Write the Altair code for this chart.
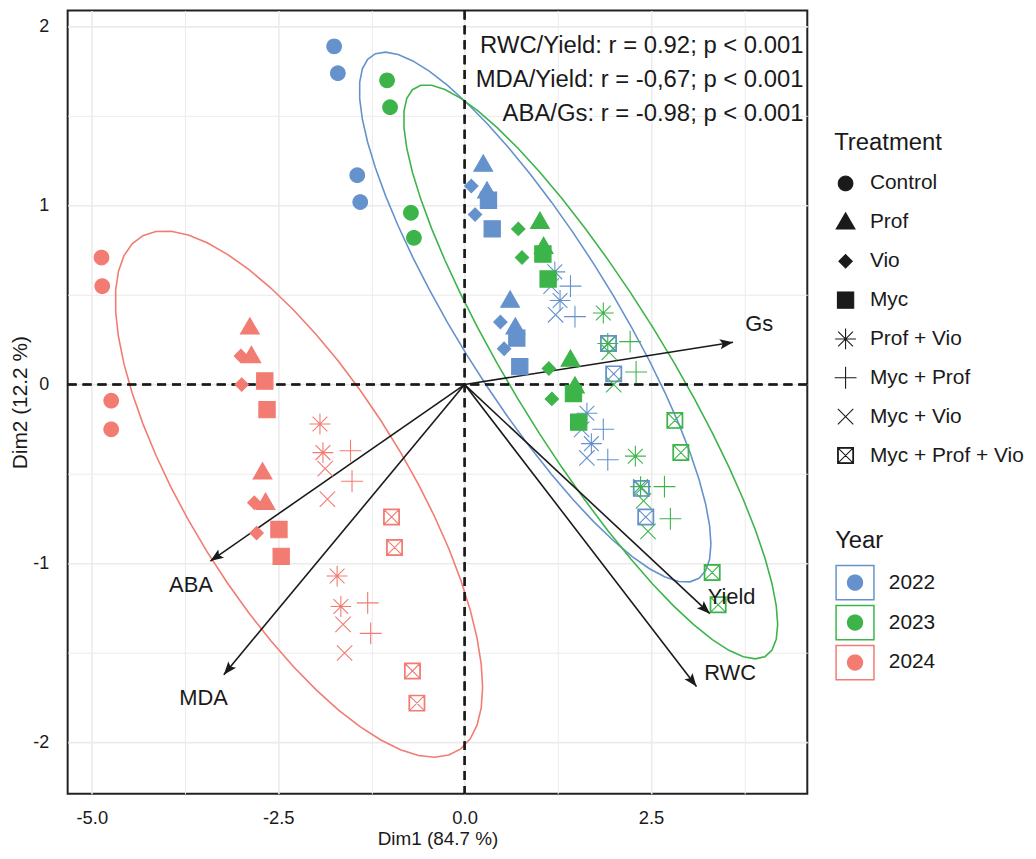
import math
import numpy as np
import pandas as pd
import altair as alt

# ---------------- data ----------------
years = ["2022", "2023", "2024"]
year_colors = ["#6592CD", "#3DB44A", "#F27B72"]
treatments = ["Control", "Prof", "Vio", "Myc", "Prof + Vio", "Myc + Prof",
              "Myc + Vio", "Myc + Prof + Vio"]
reps = 4  # points per treatment and year, in treatment order

x_2022 = [-1.75, -1.70, -1.44, -1.40, 0.25, 0.30, 0.61, 0.68,
          0.09, 0.14, 0.48, 0.53, 0.32, 0.37, 0.70, 0.74,
          1.21, 1.28, 1.64, 1.70, 1.42, 1.48, 1.86, 1.92,
          1.16, 1.22, 1.57, 1.64, 1.93, 2.00, 2.37, 2.43]
y_2022 = [1.89, 1.74, 1.17, 1.02, 1.23, 1.08, 0.47, 0.32,
          1.11, 0.95, 0.35, 0.20, 1.03, 0.87, 0.26, 0.10,
          0.63, 0.47, -0.16, -0.33, 0.55, 0.38, -0.25, -0.42,
          0.55, 0.39, -0.25, -0.41, 0.23, 0.06, -0.58, -0.74]
x_2023 = [-1.04, -1.00, -0.72, -0.68, 1.01, 1.06, 1.42, 1.48,
          0.72, 0.77, 1.13, 1.17, 1.05, 1.12, 1.46, 1.53,
          1.86, 1.92, 2.29, 2.36, 2.22, 2.30, 2.68, 2.76,
          1.94, 2.00, 2.40, 2.46, 2.82, 2.90, 3.32, 3.40]
y_2023 = [1.70, 1.55, 0.96, 0.82, 0.91, 0.77, 0.14, -0.01,
          0.87, 0.71, 0.09, -0.08, 0.73, 0.59, -0.05, -0.21,
          0.40, 0.23, -0.40, -0.57, 0.24, 0.07, -0.57, -0.75,
          0.18, 0.00, -0.65, -0.82, -0.20, -0.38, -1.05, -1.23]
x_2024 = [-4.87, -4.86, -4.74, -4.74, -2.88, -2.86, -2.71, -2.67,
          -3.00, -2.99, -2.82, -2.79, -2.68, -2.65, -2.49, -2.46,
          -1.94, -1.90, -1.71, -1.66, -1.53, -1.51, -1.30, -1.26,
          -1.87, -1.84, -1.63, -1.61, -0.98, -0.94, -0.70, -0.64]
y_2024 = [0.71, 0.55, -0.09, -0.25, 0.32, 0.16, -0.49, -0.66,
          0.16, 0.00, -0.66, -0.83, 0.02, -0.14, -0.81, -0.96,
          -0.22, -0.38, -1.07, -1.24, -0.37, -0.54, -1.22, -1.39,
          -0.47, -0.64, -1.34, -1.50, -0.74, -0.91, -1.60, -1.78]

var_names = ["Gs", "Yield", "RWC", "ABA", "MDA"]
var_x = [3.60, 3.29, 3.11, -3.41, -3.23]
var_y = [0.237, -1.28, -1.687, -0.986, -1.621]
var_label_x = [3.95, 3.58, 3.56, -3.67, -3.50]
var_label_y = [0.34, -1.185, -1.61, -1.12, -1.75]

ann_lines = ["RWC/Yield: r = 0.92; p < 0.001",
             "MDA/Yield: r = -0,67; p < 0.001",
             "ABA/Gs: r = -0.98; p < 0.001"]
ann_x = [4.545, 4.545, 4.545]
ann_y = [1.89, 1.70, 1.51]

x_grid = [-5.0, -3.75, -2.5, -1.25, 0.0, 1.25, 2.5, 3.75]
y_grid = [-2.0, -1.5, -1.0, -0.5, 0.0, 0.5, 1.0, 1.5, 2.0]

# ---------------- layout ----------------
W, H = 744, 788
XMIN, XMAX = -5.324, 4.596
YMIN, YMAX = -2.287, 2.0906
INK = "#1a1a1a"

# ---------------- tables ----------------
xs = {"2022": x_2022, "2023": x_2023, "2024": x_2024}
ys = {"2022": y_2022, "2023": y_2023, "2024": y_2024}
rows = []
for yr in years:
    for i, (a, b) in enumerate(zip(xs[yr], ys[yr])):
        rows.append({"year": yr, "treatment": treatments[i // reps], "dim1": a, "dim2": b})
pts = pd.DataFrame(rows)


def cov_trob(X, nu=5, maxit=25, tol=0.01):
    n, p = X.shape
    wt = np.ones(n)
    loc = X.mean(axis=0)
    w = np.sqrt(wt)
    Xc = X - loc
    for _ in range(maxit):
        w0 = w
        Xc = X - loc
        A = np.sqrt(w / w.sum())[:, None] * Xc
        _, d, vt = np.linalg.svd(A, full_matrices=False)
        wX = Xc @ vt.T @ np.diag(1.0 / d)
        Q = (wX ** 2).sum(axis=1)
        w = (wt * (nu + p)) / (nu + Q)
        loc = (w[:, None] * X).sum(axis=0) / w.sum()
        if np.all(np.abs(w - w0) < tol):
            break
    S = np.sqrt(w)[:, None] * Xc
    return loc, S.T @ S / wt.sum()


# stat_ellipse(type = "t", level = 0.95)
ell_rows = []
for yr in years:
    X = np.column_stack([xs[yr], ys[yr]])
    center, shape = cov_trob(X)
    dfd = len(X) - 1
    qf = dfd / 2.0 * ((1 - 0.95) ** (-2.0 / dfd) - 1)
    radius = math.sqrt(2 * qf)
    R = np.linalg.cholesky(shape).T
    ang = np.arange(52) * 2 * np.pi / 51
    unit = np.column_stack([np.cos(ang), np.sin(ang)])
    e = center + radius * (unit @ R)
    for k, (a, b) in enumerate(e):
        ell_rows.append({"year": yr, "ex": a, "ey": b, "idx": k})
ell = pd.DataFrame(ell_rows)

kx = W / (XMAX - XMIN)
ky = H / (YMAX - YMIN)
arr = pd.DataFrame({"name": var_names, "vx": var_x, "vy": var_y,
                    "lx": var_label_x, "ly": var_label_y})
arr["x0"] = 0.0
arr["y0"] = 0.0
arr["ang"] = [(math.degrees(math.atan2(a * kx, b * ky)) + 360) % 360
              for a, b in zip(var_x, var_y)]
ann = pd.DataFrame({"txt": ann_lines, "ax": ann_x, "ay": ann_y})


# ---------------- symbol paths ----------------
def poly_circle(r, n=36):
    p = [(r * math.cos(2 * math.pi * k / n), r * math.sin(2 * math.pi * k / n)) for k in range(n)]
    return "M" + "L".join(f"{a:.3f},{b:.3f}" for a, b in p) + "Z"


def frame(ax, ay, t):
    outer = f"M{-ax},{-ay}L{ax},{-ay}L{ax},{ay}L{-ax},{ay}Z"
    bx, by = ax - t, ay - t
    inner = f"M{-bx},{-by}L{-bx},{by}L{bx},{by}L{bx},{-by}Z"
    return outer + inner


shape_paths = [
    poly_circle(0.70),
    "M0,-0.92L0.9,0.64L-0.9,0.64Z",
    "M0,-0.64L0.64,0L0,0.64L-0.64,0Z",
    "M-0.78,-0.78L0.78,-0.78L0.78,0.78L-0.78,0.78Z",
    "M0,-1L0,1M-1,0L1,0M-0.71,-0.71L0.71,0.71M-0.71,0.71L0.71,-0.71",
    "M0,-1.05L0,1.05M-1.05,0L1.05,0",
    "M-0.74,-0.74L0.74,0.74M-0.74,0.74L0.74,-0.74",
    frame(0.76, 0.76, 0.06) + "M-0.76,-0.76L0.76,0.76M-0.76,0.76L0.76,-0.76",
]
year_symbol = frame(0.99, 0.9, 0.075) + poly_circle(0.41)
arrow_head = "M0,0L-0.42,1.1L0,0.88L0.42,1.1Z"

# ---------------- scales / axes ----------------
xscale = alt.Scale(domain=[XMIN, XMAX], nice=False, zero=False)
yscale = alt.Scale(domain=[YMIN, YMAX], nice=False, zero=False)
cscale = alt.Scale(domain=years, range=year_colors)
# same colours for the outline channel (domain listed in another order so that its
# hidden legend is never merged with the visible "Year" legend)
sscale = alt.Scale(domain=years[::-1], range=year_colors[::-1])

xaxis = alt.Axis(
    values=x_grid,
    labelExpr="abs(datum.value % 2.5) < 1e-6 ? (datum.value < 0 ? '-' : '') + format(abs(datum.value), '.1f') : ''",
    grid=True, gridColor="#EBEBEB",
    gridWidth={"condition": {"test": "abs(datum.value % 2.5) < 1e-6", "value": 1.6}, "value": 1.0},
    ticks=False, domain=False, labelFontSize=18.5, labelColor=INK, labelPadding=14.5,
    labelFlush=False, labelOverlap=False,
    title="Dim1 (84.7 %)", titleFontSize=19, titleFontWeight="normal", titleColor=INK,
    titleY=50.5, titleBaseline="alphabetic")
yaxis = alt.Axis(
    values=y_grid,
    labelExpr="abs(datum.value % 1) < 1e-6 ? (datum.value < 0 ? '-' : '') + format(abs(datum.value), 'd') : ''",
    grid=True, gridColor="#EBEBEB",
    gridWidth={"condition": {"test": "abs(datum.value % 1) < 1e-6", "value": 1.6}, "value": 1.0},
    ticks=False, domain=False, labelFontSize=18, labelColor=INK, labelPadding=19,
    labelFlush=False, labelOverlap=False,
    title="Dim2 (12.2 %)", titleFontSize=21, titleFontWeight="normal", titleColor=INK,
    titleX=-47, titleY=H / 2, titleAngle=270, titleBaseline="middle", titleAlign="center")


def X(field):
    return alt.X(field, scale=xscale, axis=xaxis)


def Y(field):
    return alt.Y(field, scale=yscale, axis=yaxis)


treat_legend = alt.Legend(
    orient="none", legendX=771, legendY=121, title="Treatment", titleFontSize=24,
    titleFontWeight="normal", titleColor=INK, titlePadding=17.5, labelFontSize=21,
    labelColor=INK, labelOffset=13, labelLimit=400, rowPadding=12.1, gridAlign="all",
    symbolSize=440,
    symbolFillColor=INK, symbolStrokeColor=INK, symbolStrokeWidth=1.1, symbolOpacity=1,
    padding=0)
year_legend = alt.Legend(
    orient="none", legendX=772, legendY=522, title="Year", titleFontSize=24,
    titleFontWeight="normal", titleColor=INK, titlePadding=9.5, labelFontSize=21,
    labelColor=INK, labelOffset=14, rowPadding=2.2, symbolType=year_symbol,
    symbolSize=1600, symbolStrokeWidth=0, symbolStrokeColor="transparent",
    symbolOpacity=1, padding=0)

# ---------------- layers ----------------
ellipses = alt.Chart(ell).mark_line(strokeWidth=1.6, clip=True).encode(
    x=X("ex:Q"), y=Y("ey:Q"),
    stroke=alt.Stroke("year:N", scale=sscale, legend=None),
    detail="year:N",
    order="idx:Q",
)
zero_v = alt.Chart(ann).mark_rule(strokeDash=[9, 6], strokeWidth=2, color=INK).encode(
    x=alt.XDatum(0, scale=xscale, axis=xaxis))
zero_h = alt.Chart(ann).mark_rule(strokeDash=[9, 6], strokeWidth=2, color=INK).encode(
    y=alt.YDatum(0, scale=yscale, axis=yaxis))
arrows = alt.Chart(arr).mark_rule(strokeWidth=1.6, color=INK).encode(
    x=X("x0:Q"), y=Y("y0:Q"), x2="vx:Q", y2="vy:Q")
heads = alt.Chart(arr).mark_point(shape=arrow_head, filled=True, size=576, color=INK,
                                  opacity=1, strokeWidth=0).encode(
    x=X("vx:Q"), y=Y("vy:Q"),
    angle=alt.Angle("ang:Q", scale=None))
points = alt.Chart(pts).mark_point(filled=True, opacity=1, size=440, strokeWidth=1.1).encode(
    x=X("dim1:Q"), y=Y("dim2:Q"),
    color=alt.Color("year:N", scale=cscale, legend=year_legend),
    stroke=alt.Stroke("year:N", scale=sscale, legend=None),
    shape=alt.Shape("treatment:N", scale=alt.Scale(domain=treatments, range=shape_paths),
                    legend=treat_legend),
)
var_labels = alt.Chart(arr).mark_text(fontSize=22, color=INK, baseline="middle",
                                      align="center").encode(
    x=X("lx:Q"), y=Y("ly:Q"), text="name:N")
annot = alt.Chart(ann).mark_text(fontSize=24, color=INK, align="right",
                                 baseline="middle").encode(
    x=X("ax:Q"), y=Y("ay:Q"), text="txt:N")

chart = alt.layer(ellipses, zero_v, zero_h, arrows, heads, points, var_labels, annot).properties(
    width=W, height=H,
    autosize=alt.AutoSizeParams(type="none"),
    padding={"left": 60, "top": 0, "right": 222, "bottom": 55},
).configure(font="Liberation Sans").configure_view(stroke="#222222", strokeWidth=2)

chart.save("out.html", embed_options={"renderer": "svg", "actions": False})
